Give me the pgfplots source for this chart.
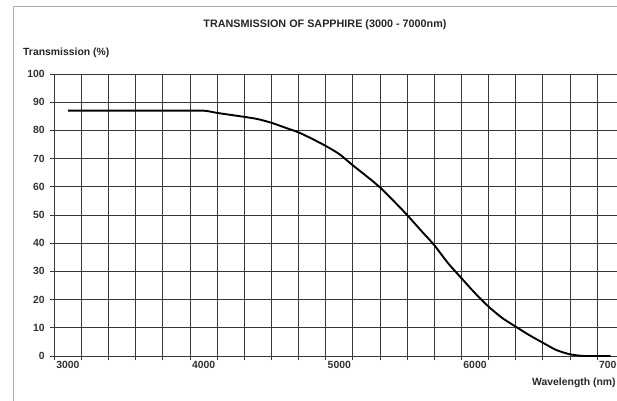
\documentclass[border=0pt]{standalone}
\usepackage{fontspec}
\setmainfont{Liberation Sans}
\usepackage{pgfplots}
\pgfplotsset{compat=1.18}

\newcommand{\chartfont}{\fontsize{10.4}{12}\selectfont\bfseries}

\begin{document}
\begin{tikzpicture}[x=1pt,y=1pt]
\path[use as bounding box] (0,0) rectangle (617,400);
\clip (0,0) rectangle (617,400);
\fill[white] (0,0) rectangle (617,400);
% outer chart frame (cut off right and bottom)
\draw[gray!65, line width=1pt] (13.3,-20) -- (13.3,393) -- (660,393);

\begin{axis}[
  at={(54.3pt,44pt)}, anchor=south west,
  scale only axis,
  width=570pt, height=282pt,
  xmin=2900, xmax=7100,
  ymin=0, ymax=100,
  xtick={2900,3100,...,7100},
  xticklabels={},
  extra x ticks={3000,4000,5000,6000,7000},
  extra x tick style={grid=none, major tick length=0pt},
  extra x tick labels={3000,4000,5000,6000,7000},
  ytick={0,10,...,100},
  xtick pos=bottom, ytick pos=left,
  tick align=outside,
  major tick length=4pt,
  grid=major,
  major grid style={black!78, line width=0.9pt},
  axis line style={black!78, line width=0.9pt},
  every tick/.style={black!78, line width=0.9pt},
  tick label style={font=\chartfont, text=black!80},
  xticklabel style={yshift=-2pt},
  yticklabel style={xshift=-2pt},
  /pgf/number format/assume math mode=true,
  /pgf/number format/set thousands separator={},
]
\addplot[black, line width=1.9pt, smooth, tension=0.4] coordinates {
  (3000,87.0) (3200,87.0) (3400,87.0) (3600,87.0) (3800,87.0) (4000,87.0)
  (4100,86.2) (4200,85.5) (4300,84.8) (4400,84.0) (4500,82.7) (4600,81.0)
  (4700,79.3) (4800,77.0) (4900,74.5) (5000,71.6) (5100,67.6) (5200,63.8)
  (5300,59.8) (5400,55.0) (5500,50.0) (5600,44.6) (5700,39.3) (5800,33.0)
  (5900,27.6) (6000,22.3) (6100,17.5) (6200,13.5) (6300,10.4) (6400,7.4)
  (6500,4.7) (6600,2.1) (6700,0.6) (6800,0) (6900,0) (7000,0)
};
\end{axis}

\node[font=\fontsize{10.8}{12}\selectfont\bfseries, text=black!85] at (325,375) {TRANSMISSION OF SAPPHIRE (3000 - 7000nm)};
\node[font=\chartfont, text=black!85, anchor=west, inner sep=0pt] at (23,347) {Transmission (\%)};
\node[font=\chartfont, text=black!85, anchor=west, inner sep=0pt] at (532,17) {Wavelength (nm)};
\end{tikzpicture}
\end{document}
